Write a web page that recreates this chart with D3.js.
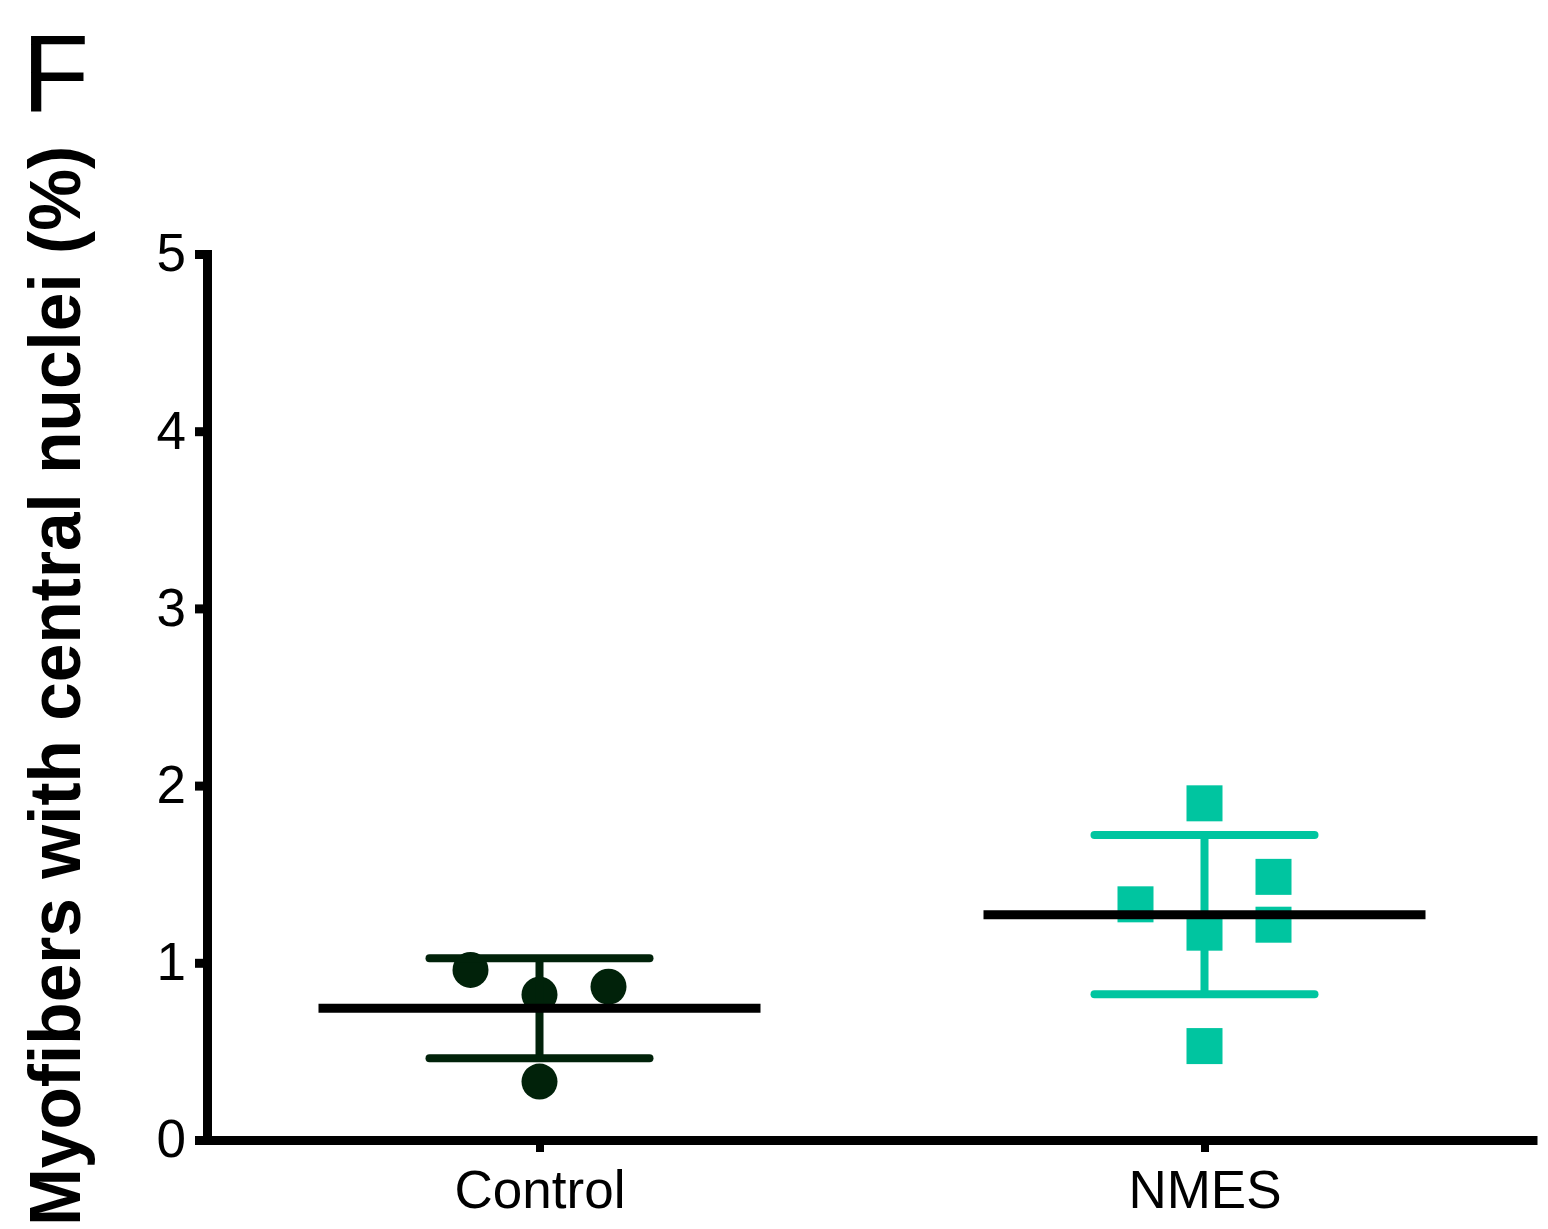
<!DOCTYPE html>
<html>
<head>
<meta charset="utf-8">
<script src="https://cdn.jsdelivr.net/npm/d3@7"></script>
<style>
  html, body { margin: 0; padding: 0; background: #fff; }
  svg { display: block; font-family: "Liberation Sans", Arial, sans-serif; }
</style>
</head>
<body>
<svg id="chart" width="1548" height="1229"></svg>
<script>
// ---- data ----
const categories = ["Control", "NMES"];
const controlValues = [0.96, 0.82, 0.865, 0.33];
const controlSlots  = [-1, 0, 1, 0];
const nmesValues = [1.90, 1.33, 1.485, 1.215, 1.17, 0.53];
const nmesSlots  = [0, -1, 1, 1, 0, 0];
const yTicks = [0, 1, 2, 3, 4, 5];
const yLabel = "Myofibers with central nuclei (%)";
const panelLabel = "F";

const groups = [
  { name: categories[0], values: controlValues, slots: controlSlots, color: "#01220a", shape: "circle" },
  { name: categories[1], values: nmesValues,    slots: nmesSlots,    color: "#00c5a0", shape: "square" }
];

// ---- layout ----
const svg = d3.select("#chart");
const plotLeft = 207, plotRight = 1537, plotTop = 254, plotBottom = 1140;

const x = d3.scalePoint().domain(categories).range([plotLeft, plotRight]).padding(0.5);
const y = d3.scaleLinear().domain([0, 5]).range([plotBottom, plotTop]);
const slotPx = 69;
const markSize = 36;

// points
groups.forEach(g => {
  const sel = svg.append("g");
  g.values.forEach((v, i) => {
    const cx = x(g.name) + g.slots[i] * slotPx;
    const cy = y(v);
    if (g.shape === "circle") {
      sel.append("circle").attr("cx", cx).attr("cy", cy).attr("r", markSize / 2).attr("fill", g.color);
    } else {
      sel.append("rect").attr("x", cx - markSize / 2).attr("y", cy - markSize / 2)
        .attr("width", markSize).attr("height", markSize).attr("fill", g.color);
    }
  });
});

// error bars (mean ± SD) and mean line
groups.forEach(g => {
  const m = d3.mean(g.values), sd = d3.deviation(g.values);
  const cx = x(g.name);
  const eb = svg.append("g").attr("stroke", g.color).attr("stroke-width", 8).attr("stroke-linecap", "round");
  eb.append("line").attr("x1", cx).attr("x2", cx).attr("y1", y(m + sd)).attr("y2", y(m - sd)).attr("stroke-linecap", "butt");
  [m + sd, m - sd].forEach(v => {
    eb.append("line").attr("x1", cx - 110).attr("x2", cx + 110).attr("y1", y(v)).attr("y2", y(v));
  });
  svg.append("line").attr("x1", cx - 221).attr("x2", cx + 221).attr("y1", y(m)).attr("y2", y(m))
    .attr("stroke", "#000").attr("stroke-width", 9);
});

// x axis
const xAxis = svg.append("g").attr("transform", `translate(0,${plotBottom})`)
  .call(d3.axisBottom(x).tickSize(12).tickSizeOuter(0).tickPadding(18));
xAxis.select(".domain").attr("stroke", "#000").attr("stroke-width", 9);
xAxis.selectAll(".tick line").attr("stroke", "#000").attr("stroke-width", 8);
xAxis.selectAll(".tick text").attr("font-size", 53).attr("fill", "#000")
  .attr("font-family", "'Liberation Sans', Arial, sans-serif");

// y axis
const yAxis = svg.append("g").attr("transform", `translate(${plotLeft},0)`)
  .call(d3.axisLeft(y).tickValues(yTicks).tickSize(12).tickSizeOuter(0).tickPadding(9).tickFormat(d3.format("d")));
yAxis.select(".domain").attr("stroke", "#000").attr("stroke-width", 9).attr("stroke-linecap", "square");
yAxis.selectAll(".tick line").attr("stroke", "#000").attr("stroke-width", 9);
yAxis.selectAll(".tick text").attr("font-size", 53).attr("fill", "#000")
  .attr("font-family", "'Liberation Sans', Arial, sans-serif");

// y label
svg.append("text")
  .attr("transform", `translate(80,686) rotate(-90)`)
  .attr("text-anchor", "middle")
  .attr("font-size", 72).attr("font-weight", "bold").attr("fill", "#000")
  .attr("textLength", 1080).attr("lengthAdjust", "spacingAndGlyphs")
  .text(yLabel);

// panel label
svg.append("text").attr("x", 22).attr("y", 112)
  .attr("font-size", 110).attr("fill", "#000")
  .text(panelLabel);
</script>
</body>
</html>
